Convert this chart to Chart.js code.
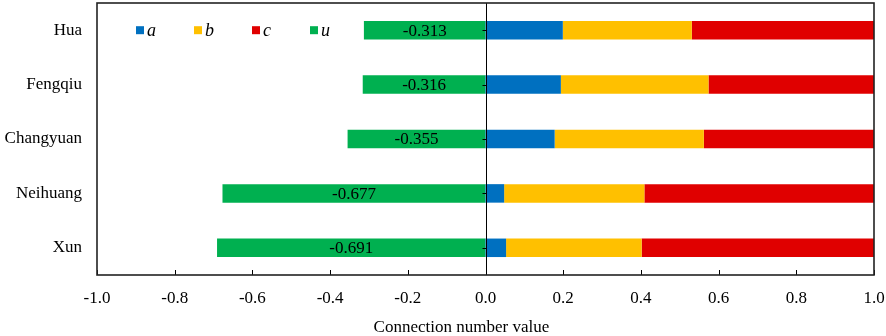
<!DOCTYPE html>
<html>
<head>
<meta charset="utf-8">
<script src="https://cdn.jsdelivr.net/npm/chart.js@4.4.0/dist/chart.umd.min.js"></script>
<style>
  html, body { margin: 0; padding: 0; background: #fff; }
  #wrap { width: 886px; height: 336px; }
</style>
</head>
<body>
<div id="wrap"><canvas id="grafico"></canvas></div>
<script>
  // dados
  const categorias = ['Hua', 'Fengqiu', 'Changyuan', 'Neihuang', 'Xun'];
  const valoresA = [0.199, 0.194, 0.178, 0.048, 0.053];
  const valoresB = [0.332, 0.380, 0.384, 0.361, 0.349];
  const valoresC = [0.469, 0.426, 0.438, 0.591, 0.598];
  const valoresU = [-0.313, -0.316, -0.355, -0.677, -0.691];
  const ticksX = [-1.0, -0.8, -0.6, -0.4, -0.2, 0.0, 0.2, 0.4, 0.6, 0.8, 1.0];
  const tituloX = 'Connection number value';

  const cores = { a: '#0070C0', b: '#FFC000', c: '#E00000', u: '#00B050' };
  const fonte = 'Liberation Serif';

  // sem folga extra das escalas
  const semFolga = s => {
    s.paddingTop = 0; s.paddingBottom = 0;
    s.paddingLeft = 0; s.paddingRight = 0;
  };

  // moldura, marcas dos eixos, rótulos de u, legenda e título do eixo
  const extras = {
    id: 'extras',
    afterDatasetsDraw(chart) {
      const ctx = chart.ctx;
      const area = chart.chartArea;
      const x = chart.scales.x;
      const y = chart.scales.y;
      ctx.save();
      ctx.strokeStyle = '#000';
      ctx.lineWidth = 1;

      // linha do zero
      const x0 = Math.round(x.getPixelForValue(0)) + 0.5;
      ctx.beginPath();
      ctx.moveTo(x0, area.top);
      ctx.lineTo(x0, area.bottom);
      ctx.stroke();

      // marcas das categorias no zero
      categorias.forEach((c, i) => {
        const py = Math.round(y.getPixelForValue(i)) + 0.5;
        ctx.beginPath();
        ctx.moveTo(x0 - 4, py);
        ctx.lineTo(x0, py);
        ctx.stroke();
      });

      // marcas do eixo x para dentro
      ticksX.forEach(v => {
        const px = Math.round(x.getPixelForValue(v)) + 0.5;
        ctx.beginPath();
        ctx.moveTo(px, area.bottom);
        ctx.lineTo(px, area.bottom - 5);
        ctx.stroke();
      });

      // moldura
      ctx.strokeStyle = '#222';
      ctx.lineWidth = 1.6;
      ctx.strokeRect(area.left, area.top, area.right - area.left, area.bottom - area.top);

      // rótulos dos valores de u
      const iu = chart.data.datasets.findIndex(d => d.label === 'u');
      const meta = chart.getDatasetMeta(iu);
      ctx.fillStyle = '#000';
      ctx.font = '17px "' + fonte + '"';
      ctx.textAlign = 'center';
      ctx.textBaseline = 'middle';
      meta.data.forEach((bar, i) => {
        ctx.fillText(valoresU[i].toFixed(3), (bar.x + bar.base) / 2, bar.y + 1);
      });

      // título do eixo x (um pouco à esquerda do centro, como no original)
      ctx.fillText(tituloX, area.left + (area.right - area.left) * 0.469, area.bottom + 53);

      // legenda dentro da área
      const ly = y.getPixelForValue(0);
      const itens = ['a', 'b', 'c', 'u'];
      ctx.font = 'italic 18px "' + fonte + '"';
      ctx.textAlign = 'left';
      itens.forEach((k, i) => {
        const lx = area.left + 39 + i * 58;
        ctx.fillStyle = cores[k];
        ctx.fillRect(lx, ly - 4, 8, 8);
        ctx.fillStyle = '#000';
        ctx.fillText(k, lx + 11, ly + 1);
      });
      ctx.restore();
    }
  };

  const ctx = document.getElementById('grafico').getContext('2d');
  new Chart(ctx, {
    type: 'bar',
    data: {
      labels: categorias,
      datasets: [
        { label: 'a', data: valoresA, backgroundColor: cores.a },
        { label: 'b', data: valoresB, backgroundColor: cores.b },
        { label: 'c', data: valoresC, backgroundColor: cores.c },
        { label: 'u', data: valoresU, backgroundColor: cores.u }
      ]
    },
    options: {
      indexAxis: 'y',
      responsive: true,
      maintainAspectRatio: false,
      animation: false,
      datasets: { bar: { categoryPercentage: 1, barPercentage: 0.34, borderWidth: 0 } },
      layout: { padding: { left: 0, right: 12, top: 3, bottom: 0 } },
      plugins: {
        legend: { display: false },
        tooltip: { enabled: false }
      },
      scales: {
        x: {
          stacked: true,
          min: -1,
          max: 1,
          afterBuildTicks: s => { s.ticks = ticksX.map(v => ({ value: v })); },
          afterFit: s => { s.height = 61; semFolga(s); },
          grid: { display: false, drawTicks: false },
          border: { display: false },
          ticks: {
            padding: 13,
            color: '#000',
            font: { family: fonte, size: 17 },
            callback: v => Number(v).toFixed(1)
          },
          title: { display: false }
        },
        y: {
          stacked: true,
          afterFit: s => { s.width = 97; semFolga(s); },
          grid: { display: false, drawTicks: false },
          border: { display: false },
          ticks: {
            padding: 15,
            color: '#000',
            font: { family: fonte, size: 17 }
          }
        }
      }
    },
    plugins: [extras]
  });
</script>
</body>
</html>
